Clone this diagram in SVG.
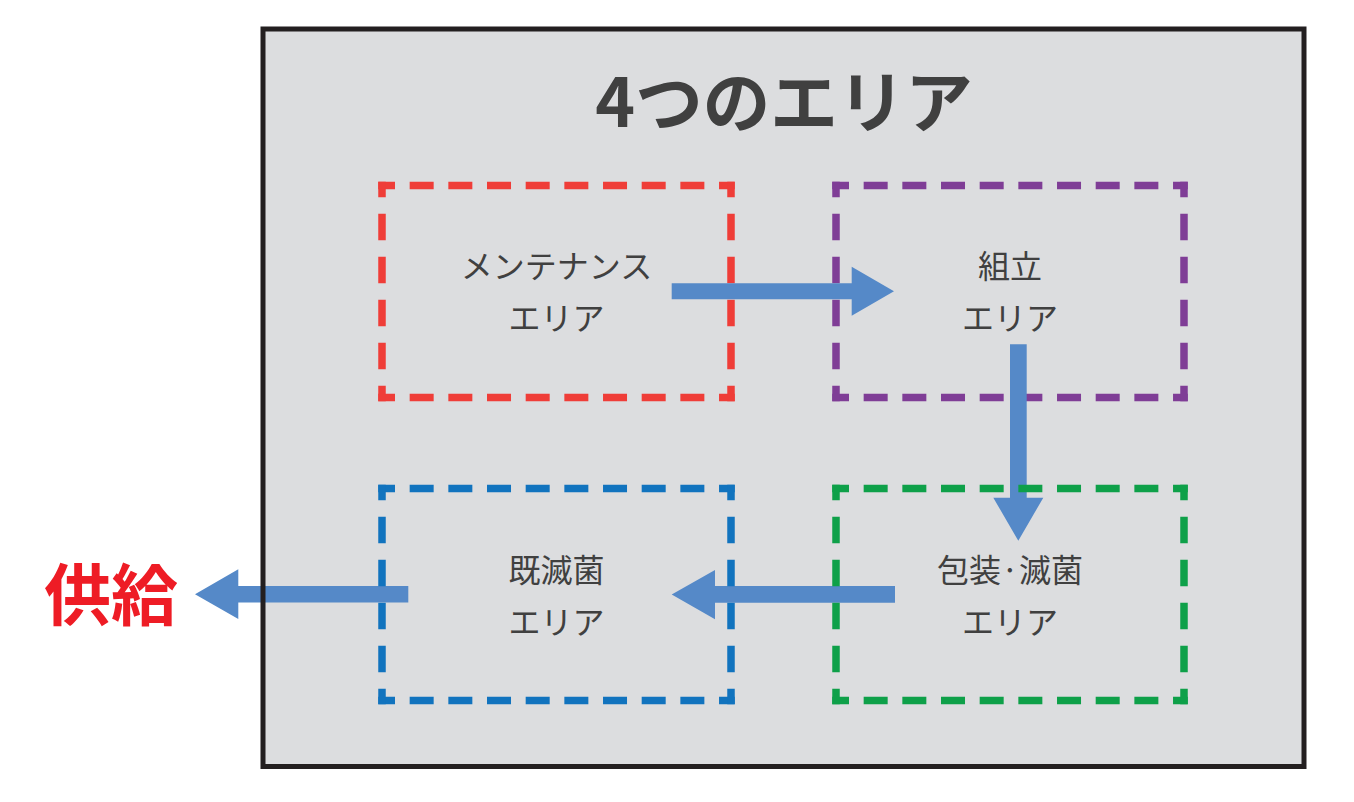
<svg xmlns="http://www.w3.org/2000/svg" width="1354" height="802" viewBox="0 0 1354 802">
  <style>
    .lbl { font-family: "Noto Sans CJK JP", "Noto Sans", sans-serif; font-size: 32px; fill: #404040; text-anchor: middle; }
    .title { font-family: "Noto Sans CJK JP", "Noto Sans", sans-serif; font-size: 67.5px; font-weight: bold; fill: #404040; text-anchor: middle; }
    .out { font-family: "Noto Sans CJK JP", sans-serif; font-size: 67px; font-weight: bold; fill: #ee1c25; text-anchor: middle; }
    .h { stroke-width: 7.5; fill: none; stroke-dasharray: 24 14.67; stroke-dashoffset: 7.25; }
    .v { stroke-width: 7.5; fill: none; stroke-dasharray: 26.5 16.5; stroke-dashoffset: 11; }
    .red line { stroke: #ef3d38; }
    .purple line { stroke: #7f3d96; }
    .blue line { stroke: #1173be; }
    .green line { stroke: #0ea049; }
    .arrow { fill: #5589c8; }
  </style>
  <rect x="0" y="0" width="1354" height="802" fill="#ffffff"/>
  <g id="frame-bg">
    <rect x="263" y="29" width="1041" height="737.5" fill="#dcdddf"/>
  </g>
  <g id="title">
    <text class="title" x="784" y="127">4つのエリア</text>
  </g>
  <g id="maintenance" class="red">
    <line class="h" x1="378.25" y1="185.5" x2="734.75" y2="185.5"/>
    <line class="h" x1="378.25" y1="397.5" x2="734.75" y2="397.5"/>
    <line class="v" x1="382" y1="181.75" x2="382" y2="401.25"/>
    <line class="v" x1="731" y1="181.75" x2="731" y2="401.25"/>
    <text class="lbl" x="556.5" y="278">メンテナンス</text>
    <text class="lbl" x="556.5" y="330">エリア</text>
  </g>
  <g id="assembly" class="purple">
    <line class="h" x1="832.25" y1="185.5" x2="1187.75" y2="185.5"/>
    <line class="h" x1="832.25" y1="397.5" x2="1187.75" y2="397.5"/>
    <line class="v" x1="836" y1="181.75" x2="836" y2="401.25"/>
    <line class="v" x1="1184" y1="181.75" x2="1184" y2="401.25"/>
    <text class="lbl" x="1010" y="278">組立</text>
    <text class="lbl" x="1010" y="330">エリア</text>
  </g>
  <g id="connectors">
    <polygon class="arrow" points="671.7,283.3 851.7,283.3 851.7,266.7 894,291.3 851.7,315.7 851.7,299.3 671.7,299.3"/>
    <polygon class="arrow" points="1010,344.3 1026.7,344.3 1026.7,497.7 1043.3,497.7 1018.3,540.7 993.3,497.7 1010,497.7"/>
    <polygon class="arrow" points="895,586 715,586 715,570 671.7,594.5 715,619.3 715,602.7 895,602.7"/>
    <polygon class="arrow" points="408.3,586 238.3,586 238.3,569.3 195,594.3 238.3,619 238.3,602.5 408.3,602.5"/>
  </g>
  <g id="sterilized" class="blue">
    <line class="h" x1="378.25" y1="488.5" x2="734.75" y2="488.5"/>
    <line class="h" x1="378.25" y1="700.5" x2="734.75" y2="700.5"/>
    <line class="v" x1="382" y1="484.75" x2="382" y2="704.25"/>
    <line class="v" x1="731" y1="484.75" x2="731" y2="704.25"/>
    <text class="lbl" x="556.5" y="582">既滅菌</text>
    <text class="lbl" x="556.5" y="634">エリア</text>
  </g>
  <g id="packaging" class="green">
    <line class="h" x1="832.25" y1="488.5" x2="1187.75" y2="488.5"/>
    <line class="h" x1="832.25" y1="700.5" x2="1187.75" y2="700.5"/>
    <line class="v" x1="836" y1="484.75" x2="836" y2="704.25"/>
    <line class="v" x1="1184" y1="484.75" x2="1184" y2="704.25"/>
    <text class="lbl" x="1010" y="582">包装·滅菌</text>
    <text class="lbl" x="1010" y="634">エリア</text>
  </g>
  <g id="frame-border">
    <rect x="263" y="29" width="1041" height="737.5" fill="none" stroke="#231f20" stroke-width="5"/>
  </g>
  <g id="supply">
    <text class="out" x="111" y="620">供給</text>
  </g>
</svg>
